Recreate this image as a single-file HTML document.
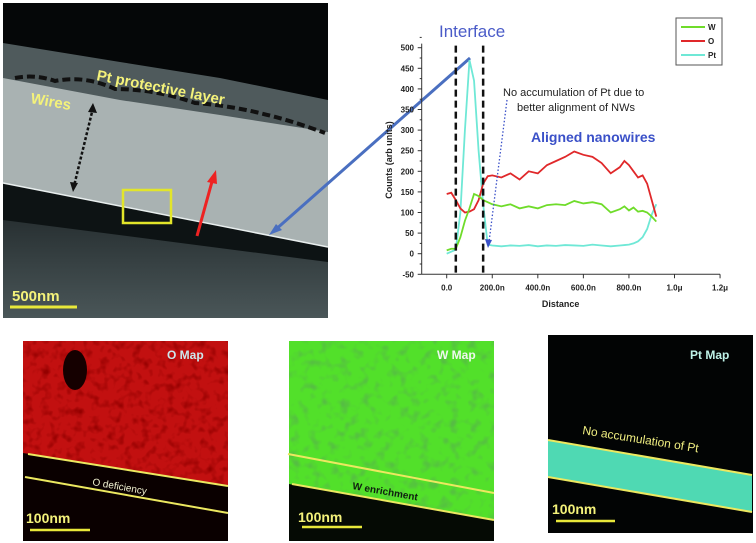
<!DOCTYPE html>
<html><head><meta charset="utf-8"><style>
html,body{margin:0;padding:0;background:#fff;width:756px;height:543px;overflow:hidden}
svg{display:block;font-family:"Liberation Sans",sans-serif}
</style></head><body>
<svg id="root" width="756" height="543" viewBox="0 0 756 543">
<defs>
<linearGradient id="sub" x1="0" y1="0" x2="0" y2="1"><stop offset="0" stop-color="#1b2224"/><stop offset="1" stop-color="#4a5658"/></linearGradient>
<filter id="noiseR" x="0" y="0" width="100%" height="100%"><feTurbulence type="fractalNoise" baseFrequency="0.12" numOctaves="2" seed="3"/><feColorMatrix values="0 0 0 0 0.3  0 0 0 0 0.0  0 0 0 0 0.0  0 0 0 2.5 -1.2"/></filter>
<filter id="noiseG" x="0" y="0" width="100%" height="100%"><feTurbulence type="fractalNoise" baseFrequency="0.1" numOctaves="2" seed="5"/><feColorMatrix values="0 0 0 0 0.1  0 0 0 0 0.35  0 0 0 0 0.1  0 0 0 2.5 -1.25"/></filter>
<clipPath id="cO"><rect x="23" y="341" width="205" height="199"/></clipPath>
<clipPath id="cW"><rect x="289" y="341" width="205" height="199"/></clipPath>
</defs>

<!-- SEM image -->
<g>
<rect x="3" y="3" width="325" height="315" fill="#050708"/>
<polygon points="3,43 120,62 220,78 328,100 328,318 3,318" fill="#4f5a5c"/>
<polygon points="3,78 120,100 220,115 328,132 328,318 3,318" fill="#a9b2b2"/>
<polygon points="3,183 328,247 328,318 3,318" fill="url(#sub)"/>
<polygon points="3,183 328,247 328,262 3,220" fill="#0d1314"/>
<line x1="3" y1="183" x2="328" y2="247" stroke="#e8eeee" stroke-width="1.5"/>
<path d="M15 78 q20 -4 40 3 q30 -6 60 8 q40 0 80 14 q60 4 130 30" fill="none" stroke="#111" stroke-width="4" stroke-dasharray="8 4"/>
<text x="96" y="80" fill="#f4f27a" font-size="15" font-weight="bold" transform="rotate(11 96 80)">Pt protective layer</text>
<text x="30" y="103" fill="#f4f27a" font-size="15" font-weight="bold" transform="rotate(10 30 103)">Wires</text>
<line x1="93" y1="108" x2="74" y2="186" stroke="#111" stroke-width="2.5" stroke-dasharray="3 2"/>
<polygon points="93,103 88,112 97,113" fill="#111"/><polygon points="73,192 70,182 78,183" fill="#111"/>
<rect x="123" y="190" width="48" height="33" fill="none" stroke="#e2e52a" stroke-width="2.5"/>
<line x1="197" y1="236" x2="213" y2="178" stroke="#ee2222" stroke-width="3"/>
<polygon points="216,170 207,182 217,184" fill="#ee2222"/>
<text x="12" y="301" fill="#f4f27a" font-size="15" font-weight="bold">500nm</text>
<line x1="10" y1="307" x2="77" y2="307" stroke="#e8e83a" stroke-width="3"/>
</g>
<line x1="470" y1="58" x2="274" y2="231" stroke="#4a6fc0" stroke-width="3"/>
<polygon points="269,235 276,224 282,230" fill="#4a6fc0"/>

<!-- Chart -->
<g id="chart"></g>

<!-- Maps -->
<g>
<rect x="23" y="341" width="205" height="199" fill="#c21010"/>
<rect x="23" y="341" width="205" height="199" filter="url(#noiseR)" clip-path="url(#cO)"/>
<polygon points="23,453 228,486 228,541 23,541" fill="#0a0000"/>
<ellipse cx="75" cy="370" rx="12" ry="20" fill="#150000"/>
<line x1="28" y1="454" x2="228" y2="486" stroke="#ece860" stroke-width="2"/>
<line x1="25" y1="477" x2="228" y2="513" stroke="#ece860" stroke-width="2"/>
<text x="92" y="485" fill="#f0f0d0" font-size="10" transform="rotate(10 92 485)">O deficiency</text>
<text x="167" y="359" fill="#cce8ee" font-size="12" font-weight="bold">O Map</text>
<text x="26" y="523" fill="#f4f27a" font-size="14" font-weight="bold">100nm</text>
<line x1="30" y1="530" x2="90" y2="530" stroke="#e8e83a" stroke-width="2.5"/>
</g>
<g>
<rect x="289" y="341" width="205" height="199" fill="#52e02a"/>
<rect x="289" y="341" width="205" height="199" filter="url(#noiseG)" opacity="0.6" clip-path="url(#cW)"/>
<polygon points="289,484 494,520 494,541 289,541" fill="#050a04"/>
<line x1="288" y1="454" x2="494" y2="493" stroke="#ece860" stroke-width="2"/>
<line x1="292" y1="484" x2="494" y2="520" stroke="#ece860" stroke-width="2"/>
<text x="352" y="489" fill="#102010" font-size="10" font-weight="bold" transform="rotate(10 352 489)">W enrichment</text>
<text x="437" y="359" fill="#eef8ee" font-size="12" font-weight="bold">W Map</text>
<text x="298" y="522" fill="#f4f27a" font-size="14" font-weight="bold">100nm</text>
<line x1="302" y1="527" x2="362" y2="527" stroke="#e8e83a" stroke-width="2.5"/>
</g>
<g>
<rect x="548" y="335" width="205" height="198" fill="#020404"/>
<polygon points="548,440 752,475 752,512 548,477" fill="#4fd9b3"/>
<line x1="548" y1="440" x2="752" y2="475" stroke="#ece860" stroke-width="2"/>
<line x1="548" y1="477" x2="752" y2="512" stroke="#ece860" stroke-width="2"/>
<text x="582" y="434" fill="#f0ee80" font-size="12" transform="rotate(9 582 434)">No accumulation of Pt</text>
<text x="690" y="359" fill="#bff3e8" font-size="12" font-weight="bold">Pt Map</text>
<text x="552" y="514" fill="#f4f27a" font-size="14" font-weight="bold">100nm</text>
<line x1="556" y1="521" x2="615" y2="521" stroke="#e8e83a" stroke-width="2.5"/>
</g>
</svg>
<script>
const xs = [0,20,40,60,80,100,120,140,160,180,200,240,280,320,360,400,440,480,520,560,600,640,680,720,760,780,800,820,840,860,880,900,920];
const wVals = [8,12,12,40,80,110,145,140,130,125,120,115,120,110,115,110,118,120,118,128,122,125,120,100,108,115,105,112,102,104,100,90,78];
const oVals = [145,148,130,110,100,102,108,130,170,188,190,185,195,180,200,195,215,225,235,248,240,235,220,195,210,225,215,200,185,190,170,130,90];
const ptVals = [0,5,10,100,300,470,420,250,120,22,20,18,20,19,21,18,20,19,21,20,19,22,20,18,20,21,22,25,30,40,60,95,120];
const yTicks = [-50,0,50,100,150,200,250,300,350,400,450,500];
const xTicks = [0,200,400,600,800,1000,1200];
const xTickLabels = ["0.0","200.0n","400.0n","600.0n","800.0n","1.0\u03bc","1.2\u03bc"];
const legendNames = ["W","O","Pt"];
const colors = ["#6fdc2a","#e0282a","#6fe8d6"];
const X = v => 446.7 + v * 0.2278;
const Y = v => 253.7 - v * 0.412;
const NS = "http://www.w3.org/2000/svg";
const g = document.getElementById('chart');
function el(tag, attrs, parent) { const e = document.createElementNS(NS, tag); for (const k in attrs) e.setAttribute(k, attrs[k]); (parent || g).appendChild(e); return e; }
const ax = el('line', {x1:421.7, y1:Y(510), x2:421.7, y2:Y(-50), stroke:'#333', 'stroke-width':1});


const bx = el('line', {x1:421.7, y1:Y(-50), x2:X(1200), y2:Y(-50), stroke:'#333', 'stroke-width':1});


yTicks.forEach(t => {
  el('line', {x1:417.7, y1:Y(t), x2:421.7, y2:Y(t), stroke:'#333'});
  el('line', {x1:419.7, y1:Y(t+25), x2:421.7, y2:Y(t+25), stroke:'#333'});
  const tx = el('text', {x:414, y:Y(t)+3, 'font-size':8, 'font-weight':'bold', 'text-anchor':'end', fill:'#222'});
  tx.textContent = t;
  
  
});
xTicks.forEach((t, i) => {
  el('line', {x1:X(t), y1:Y(-50), x2:X(t), y2:Y(-50)+4, stroke:'#333'});
  const tx = el('text', {x:X(t), y:Y(-50)+16, 'font-size':8, 'font-weight':'bold', 'text-anchor':'middle', fill:'#222'});
  tx.textContent = xTickLabels[i];
  
  
});
const yt = el('text', {x:392, y:160, 'font-size':9, 'font-weight':'bold', 'text-anchor':'middle', fill:'#222', transform:'rotate(-90 392 160)'});
yt.textContent = 'Counts (arb units)';


const xt = el('text', {x:X(500), y:307, 'font-size':9, 'font-weight':'bold', 'text-anchor':'middle', fill:'#222'});
xt.textContent = 'Distance';


[[ptVals,2],[oVals,1],[wVals,0]].forEach(([vals, ci]) => {
  const p = el('polyline', {points: xs.map((x, i) => X(x) + ',' + Y(vals[i])).join(' '), fill:'none', stroke:colors[ci], 'stroke-width':1.8});
  
  
});
[40, 160].forEach(v => {
  const l = el('line', {x1:X(v), y1:Y(505), x2:X(v), y2:Y(-50), stroke:'#111', 'stroke-width':2.5, 'stroke-dasharray':'7 4'});
  
  
});
const lg = el('rect', {x:676, y:18, width:46, height:47, fill:'#fff', stroke:'#555'});


legendNames.forEach((n, i) => {
  el('line', {x1:681, y1:27+i*14, x2:705, y2:27+i*14, stroke:colors[i], 'stroke-width':2});
  const t = el('text', {x:708, y:30+i*14, 'font-size':8, 'font-weight':'bold', fill:'#222'});
  t.textContent = n;
  
  
});
const a1 = el('text', {x:439, y:37, 'font-size':17, fill:'#4a5bc8'});
a1.textContent = 'Interface';


const a2 = el('text', {x:503, y:96, 'font-size':11, fill:'#222'});
a2.textContent = 'No accumulation of Pt due to';


const a3 = el('text', {x:517, y:111, 'font-size':11, fill:'#222'});
a3.textContent = 'better alignment of NWs';


const a4 = el('text', {x:531, y:142, 'font-size':14, 'font-weight':'bold', fill:'#3a50c8'});
a4.textContent = 'Aligned nanowires';


const da = el('line', {x1:507, y1:100, x2:489, y2:242, stroke:'#3a50c8', 'stroke-width':1.3, 'stroke-dasharray':'1.5 2'});


el('polygon', {points:'488,248 485,239 492,240', fill:'#3a50c8'});
</script>
</body></html>
